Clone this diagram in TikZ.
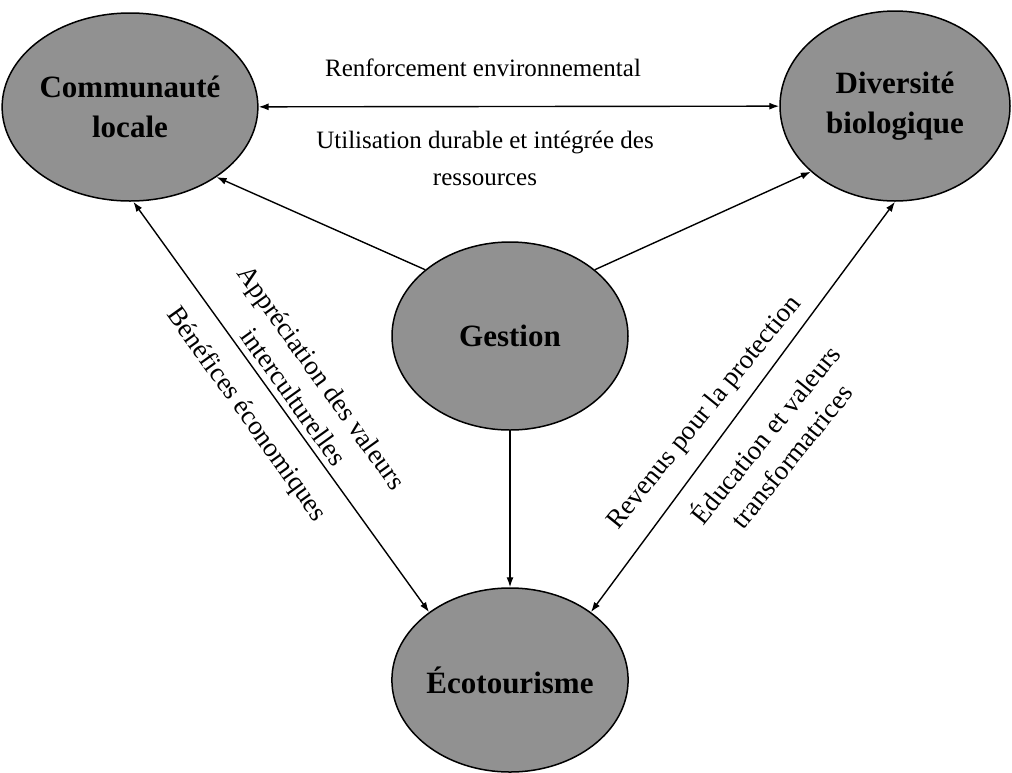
\documentclass[tikz,border=0pt]{standalone}
\usepackage{fontspec}
\setmainfont{Liberation Serif}
\usetikzlibrary{shapes.geometric,arrows.meta}
\definecolor{bubble}{rgb}{0.57,0.57,0.57}
\begin{document}
\begin{tikzpicture}[x=1pt,y=-1pt,
  bubble/.style={ellipse,draw=black,line width=1.5pt,fill=bubble,inner sep=0pt,
    align=center,font=\fontsize{31}{40}\selectfont\bfseries},
  lbl/.style={align=center,inner sep=0pt,font=\fontsize{25}{37}\selectfont},
  slant/.style={align=center,inner sep=0pt,font=\fontsize{27}{34}\selectfont},
  link/.style={line width=1.4pt,-{Latex[length=10pt,width=7pt]}},
  both/.style={line width=1.4pt,{Latex[length=10pt,width=7pt]}-{Latex[length=10pt,width=7pt]}}]
\clip (0,0) rectangle (1012,772);
\fill[white] (0,0) rectangle (1012,772);

% main concepts
\node[bubble,minimum width=236pt,minimum height=188pt] (com) at (130,107) {Communauté\\locale};
\node[bubble,minimum width=230pt,minimum height=190pt] (div) at (895,106) {Diversité\\biologique};
\node[bubble,minimum width=236pt,minimum height=188pt] (ges) at (510,336) {Gestion};
\node[bubble,minimum width=236pt,minimum height=184pt] (eco) at (510,680) {\raisebox{-5pt}{Écotourisme}};

% relations
\draw[both] (com) -- (div);
\draw[link] (ges.142) -- (com.-39);
\draw[link] (ges.38) -- (div.218);
\draw[link] (ges.south) -- (eco.north);
\draw[both] (com.272) -- (eco.140);
\draw[both] (div.270) -- (eco.40);

% relation labels
\node[lbl] (ren) at (483,68) {Renforcement environnemental};
\node[lbl] (uti) at (485,158) {Utilisation durable et intégrée des\\ressources};
\node[slant,rotate=-54.4] (app) at (308,387) {Appréciation des valeurs\\interculturelles};
\node[slant,rotate=-54.4] (ben) at (246,415) {Bénéfices économiques};
\node[slant,rotate=51] (rev) at (705,413) {Revenus pour la protection};
\node[slant,rotate=51] (edu) at (777,444) {Éducation et valeurs\\transformatrices};
\end{tikzpicture}
\end{document}
